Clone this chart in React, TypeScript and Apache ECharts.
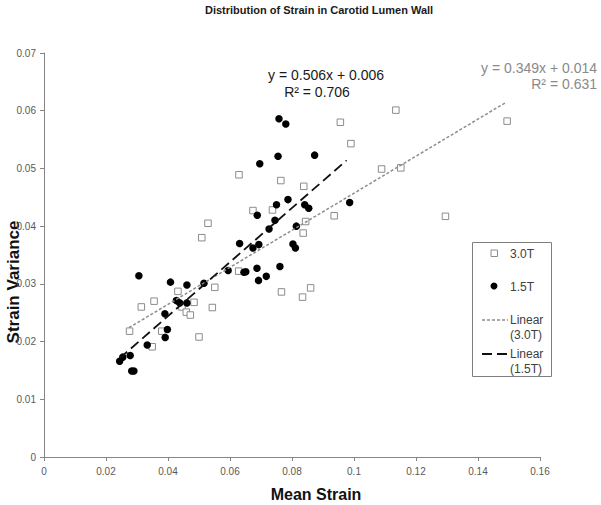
import React, { useEffect, useRef } from "react";
import * as echarts from "echarts";

// Mean strain / strain variance pairs
const strain30T: [number, number][] = [
  [0.0432, 0.0287], [0.0484, 0.0268], [0.0445, 0.026], [0.0459, 0.0251],
  [0.0472, 0.0246], [0.0355, 0.027], [0.0314, 0.026], [0.0276, 0.0218],
  [0.038, 0.0218], [0.0349, 0.0191], [0.05, 0.0208], [0.0551, 0.0294],
  [0.0543, 0.0259], [0.0509, 0.038], [0.0529, 0.0405], [0.0628, 0.0322],
  [0.0766, 0.0286], [0.0629, 0.0489], [0.0764, 0.0479], [0.0674, 0.0427],
  [0.0737, 0.0428], [0.0956, 0.058], [0.099, 0.0543], [0.1089, 0.0499],
  [0.0838, 0.0469], [0.0936, 0.0418], [0.0844, 0.0408], [0.0836, 0.0388],
  [0.086, 0.0293], [0.0834, 0.0277], [0.1135, 0.0601], [0.1494, 0.0582],
  [0.1151, 0.0501], [0.1295, 0.0417],
];

const strain15T: [number, number][] = [
  [0.0306, 0.0314], [0.0408, 0.0303], [0.0461, 0.0298], [0.0516, 0.0301],
  [0.0427, 0.0271], [0.0438, 0.0267], [0.0461, 0.0267], [0.039, 0.0248],
  [0.0398, 0.0221], [0.0391, 0.0207], [0.0333, 0.0194], [0.0278, 0.0176],
  [0.0254, 0.0173], [0.0244, 0.0166], [0.0283, 0.0149], [0.029, 0.0149],
  [0.0758, 0.0586], [0.078, 0.0577], [0.0755, 0.0521], [0.0696, 0.0508],
  [0.0787, 0.0446], [0.075, 0.0437], [0.0688, 0.0419], [0.0745, 0.041],
  [0.0726, 0.0395], [0.0814, 0.04], [0.0631, 0.037], [0.0674, 0.0362],
  [0.0693, 0.0368], [0.0803, 0.0369], [0.0811, 0.0362], [0.0594, 0.0323],
  [0.0645, 0.032], [0.0651, 0.0321], [0.0687, 0.0327], [0.0692, 0.0306],
  [0.0717, 0.0313], [0.0761, 0.033], [0.0873, 0.0523], [0.0841, 0.0437],
  [0.0854, 0.0431], [0.0986, 0.0441],
];

// Trend line end points as drawn
const trend30T: [number, number][] = [[0.0274, 0.0224], [0.1492, 0.0615]];
const trend15T: [number, number][] = [[0.0244, 0.0171], [0.0976, 0.0514]];

const xRange = [0, 0.16, 0.02];
const yRange = [0, 0.07, 0.01];

const eq30T = ["y = 0.349x + 0.014", "R² = 0.631"];
const eq15T = ["y = 0.506x + 0.006", "R² = 0.706"];
const legendNames = ["3.0T", "1.5T", "Linear\n(3.0T)", "Linear\n(1.5T)"];
const titleText = "Distribution of Strain in Carotid Lumen Wall";

const FONT = "'Liberation Sans', Arial, Helvetica, sans-serif";
const GRAY = "#8c8c8c";

export default function App() {
  const ref = useRef<HTMLDivElement>(null);
  useEffect(() => {
    if (!ref.current) return;
    const chart = echarts.init(ref.current, undefined, { renderer: "svg" });
    const legendText = {
      fill: "#404040",
      fontSize: 12,
      fontFamily: FONT,
      lineHeight: 15,
    };
    chart.setOption({
      animation: false,
      backgroundColor: "#fff",
      textStyle: { fontFamily: FONT },
      title: {
        text: titleText,
        left: 205,
        top: 4,
        padding: 0,
        textStyle: { fontSize: 11, fontWeight: "bold", color: "#1a1a1a", fontFamily: FONT },
      },
      grid: {
        left: 44,
        right: 61,
        top: 53,
        bottom: 48,
        containLabel: false,
        outerBoundsMode: "none",
      },
      xAxis: {
        type: "value",
        min: xRange[0],
        max: xRange[1],
        interval: xRange[2],
        name: "Mean Strain",
        nameLocation: "middle",
        nameGap: 29,
        nameMoveOverlap: false,
        nameTextStyle: {
          fontSize: 16,
          fontWeight: "bold",
          color: "#111",
          fontFamily: FONT,
          padding: [0, 0, 0, 48],
        },
        splitLine: { show: false },
        axisLine: { lineStyle: { color: "#868686", width: 1 } },
        axisTick: { show: true, length: 4, lineStyle: { color: "#868686" } },
        axisLabel: { fontSize: 10, color: "#595959", margin: 9, fontFamily: FONT },
      },
      yAxis: {
        type: "value",
        min: yRange[0],
        max: yRange[1],
        interval: yRange[2],
        name: "Strain Variance",
        nameLocation: "middle",
        nameGap: 22,
        nameMoveOverlap: false,
        nameTextStyle: {
          fontSize: 17,
          fontWeight: "bold",
          color: "#111",
          fontFamily: FONT,
          padding: [0, 54, 0, 0],
        },
        splitLine: { show: false },
        axisLine: { show: true, lineStyle: { color: "#868686", width: 1 } },
        axisTick: { show: true, length: 4, lineStyle: { color: "#868686" } },
        axisLabel: { fontSize: 10, color: "#595959", margin: 8, fontFamily: FONT },
      },
      legend: { show: false },
      series: [
        {
          name: "3.0T",
          type: "scatter",
          data: strain30T,
          symbol: "rect",
          symbolSize: 6.5,
          itemStyle: { color: "#fff", borderColor: GRAY, borderWidth: 1, opacity: 1 },
          z: 2,
        },
        {
          name: "1.5T",
          type: "scatter",
          data: strain15T,
          symbol: "circle",
          symbolSize: 7.5,
          itemStyle: { color: "#000", opacity: 1 },
          z: 3,
        },
        {
          name: "Linear (3.0T)",
          type: "line",
          data: trend30T,
          symbol: "none",
          lineStyle: { color: GRAY, width: 1.5, type: [3, 2] },
          z: 4,
        },
        {
          name: "Linear (1.5T)",
          type: "line",
          data: trend15T,
          symbol: "none",
          lineStyle: { color: "#111", width: 1.8, type: [10, 5] },
          z: 5,
        },
      ],
      graphic: [
        {
          type: "text",
          x: 326,
          y: 75,
          style: {
            text: eq15T[0],
            fill: "#1a1a1a",
            fontSize: 14,
            fontFamily: FONT,
            align: "center",
            verticalAlign: "middle",
          },
        },
        {
          type: "text",
          x: 317,
          y: 92,
          style: {
            text: eq15T[1],
            fill: "#1a1a1a",
            fontSize: 14,
            fontFamily: FONT,
            align: "center",
            verticalAlign: "middle",
          },
        },
        {
          type: "text",
          x: 597,
          y: 68,
          style: {
            text: eq30T[0],
            fill: "#8a8a8a",
            fontSize: 14,
            fontFamily: FONT,
            align: "right",
            verticalAlign: "middle",
          },
        },
        {
          type: "text",
          x: 597,
          y: 84,
          style: {
            text: eq30T[1],
            fill: "#8a8a8a",
            fontSize: 14,
            fontFamily: FONT,
            align: "right",
            verticalAlign: "middle",
          },
        },
        // legend box
        {
          type: "rect",
          shape: { x: 472.5, y: 242.5, width: 79, height: 134 },
          style: { fill: "#fff", stroke: "#7f7f7f", lineWidth: 1 },
          z: 10,
        },
        {
          type: "rect",
          shape: { x: 491, y: 250, width: 6.5, height: 6.5 },
          style: { fill: "#fff", stroke: GRAY, lineWidth: 1 },
          z: 11,
        },
        {
          type: "text",
          x: 510,
          y: 253.5,
          style: { ...legendText, text: legendNames[0], verticalAlign: "middle" },
          z: 11,
        },
        {
          type: "circle",
          shape: { cx: 494, cy: 286, r: 3.5 },
          style: { fill: "#000" },
          z: 11,
        },
        {
          type: "text",
          x: 510,
          y: 286.5,
          style: { ...legendText, text: legendNames[1], verticalAlign: "middle" },
          z: 11,
        },
        {
          type: "line",
          shape: { x1: 482, y1: 320, x2: 508, y2: 320 },
          style: { stroke: GRAY, lineWidth: 1.5, lineDash: [3, 2] },
          z: 11,
        },
        {
          type: "text",
          x: 510,
          y: 312.5,
          style: { ...legendText, text: legendNames[2], verticalAlign: "top" },
          z: 11,
        },
        {
          type: "line",
          shape: { x1: 482, y1: 354, x2: 508, y2: 354 },
          style: { stroke: "#111", lineWidth: 1.8, lineDash: [10, 5] },
          z: 11,
        },
        {
          type: "text",
          x: 510,
          y: 346.5,
          style: { ...legendText, text: legendNames[3], verticalAlign: "top" },
          z: 11,
        },
      ],
    });
    return () => chart.dispose();
  }, []);
  return (
    <div
      ref={ref}
      style={{ position: "absolute", left: 0, top: 0, width: 601, height: 505 }}
    />
  );
}
